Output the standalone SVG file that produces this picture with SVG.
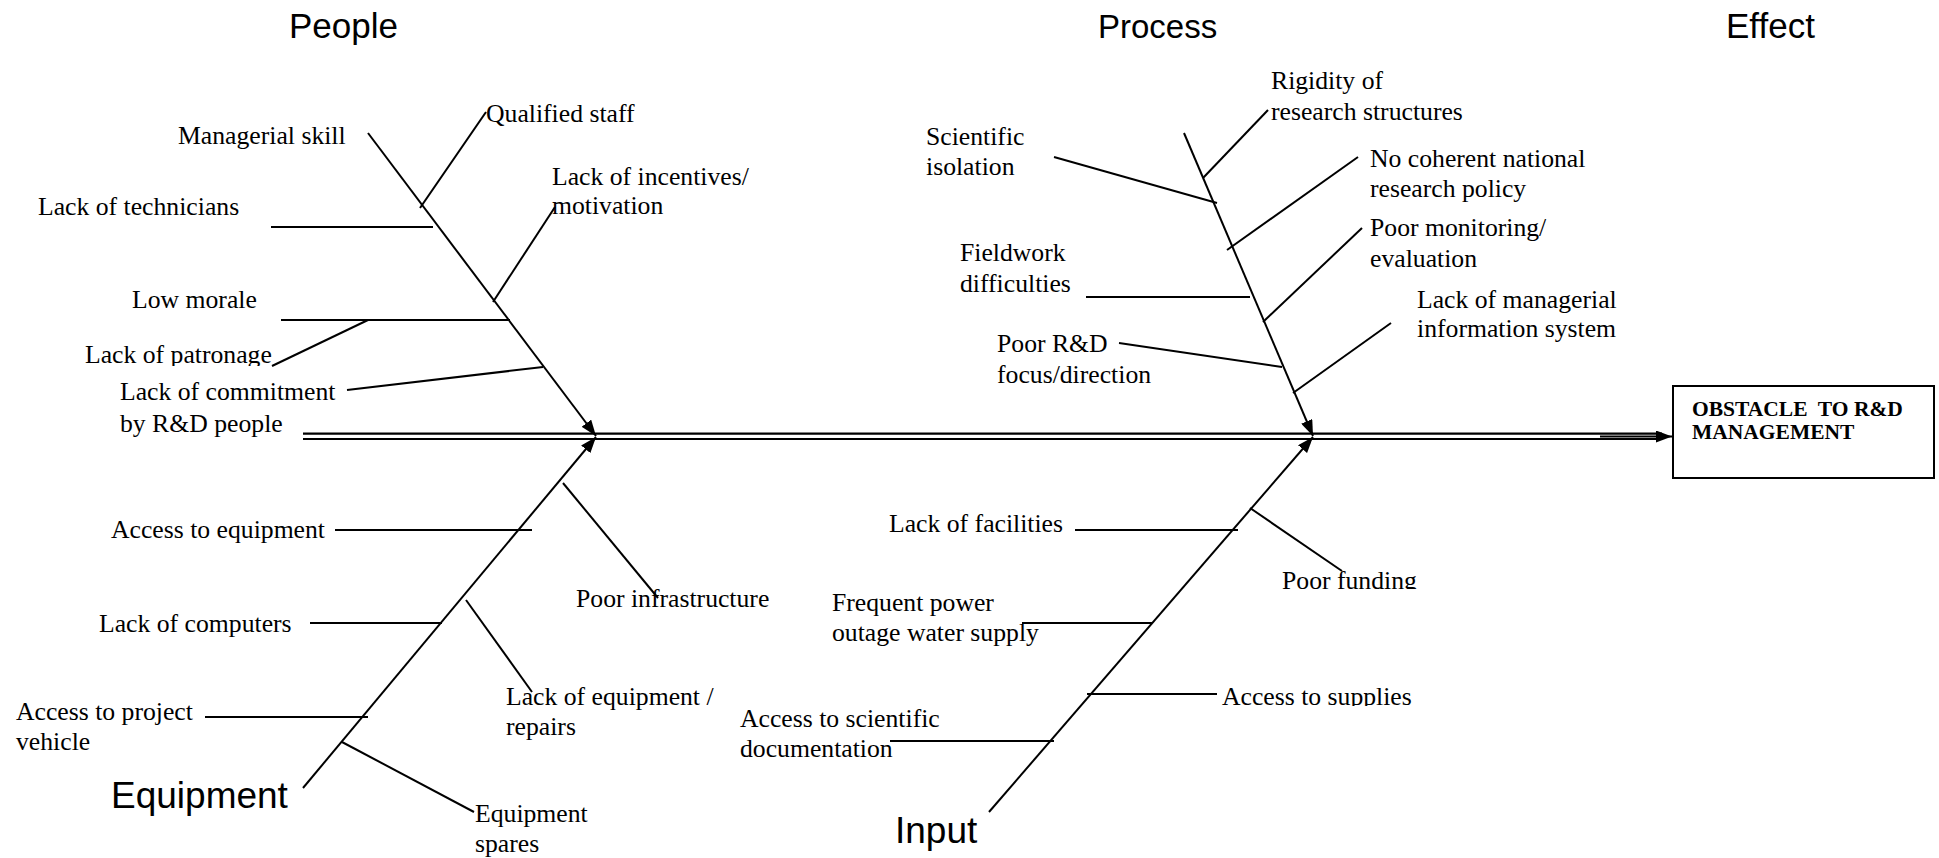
<svg xmlns="http://www.w3.org/2000/svg" width="1939" height="858" viewBox="0 0 1939 858">
<style>
  .lbl { font-family: "Liberation Serif", "Times New Roman", serif; font-size: 25.7px; fill: #000; }
  .hd { font-family: "Liberation Sans", Arial, sans-serif; font-size: 35px; fill: #000; }
  .hd2 { font-family: "Liberation Sans", Arial, sans-serif; font-size: 37px; fill: #000; }
  .ef { font-family: "Liberation Serif", "Times New Roman", serif; font-size: 21.5px; font-weight: bold; fill: #000; white-space: pre; }
  .bone { stroke: #000; stroke-width: 2; fill: none; }
  .br { stroke: #000; stroke-width: 2; fill: none; }
  .sp { stroke: #000; stroke-width: 2.2; fill: none; }
</style>
<defs>
  <marker id="ah" markerUnits="userSpaceOnUse" markerWidth="16" markerHeight="12" refX="16" refY="6" orient="auto">
    <path d="M0,0 L16,6 L0,12 z" fill="#000"/>
  </marker>
  <clipPath id="clipPat"><rect x="0" y="340" width="400" height="26"/></clipPath>
  <clipPath id="clipFund"><rect x="1270" y="560" width="200" height="29"/></clipPath>
  <clipPath id="clipSup"><rect x="1210" y="680" width="250" height="26"/></clipPath>
</defs>
<rect x="0" y="0" width="1939" height="858" fill="#fff"/>

<g id="connectors">
  <!-- spine -->
  <line class="sp" x1="303" y1="433.7" x2="1662" y2="433.7"/>
  <line class="sp" x1="303" y1="439" x2="1662" y2="439"/>
  <line class="sp" x1="1600" y1="436.5" x2="1672" y2="436.5" marker-end="url(#ah)"/>
  <!-- main bones -->
  <line class="bone" x1="368" y1="133" x2="596" y2="436" marker-end="url(#ah)"/>
  <line class="bone" x1="1184" y1="133" x2="1313" y2="436" marker-end="url(#ah)"/>
  <line class="bone" x1="303" y1="788" x2="596" y2="437" marker-end="url(#ah)"/>
  <line class="bone" x1="989" y1="812" x2="1313" y2="437" marker-end="url(#ah)"/>
  <!-- People branches -->
  <line class="br" x1="486" y1="112" x2="420" y2="208"/>
  <line class="br" x1="271" y1="227" x2="433" y2="227"/>
  <line class="br" x1="555" y1="207" x2="493" y2="302"/>
  <line class="br" x1="281" y1="320" x2="510" y2="320"/>
  <line class="br" x1="368" y1="320" x2="272" y2="366"/>
  <line class="br" x1="347" y1="390" x2="543" y2="367"/>
  <!-- Process branches -->
  <line class="br" x1="1268" y1="110" x2="1203" y2="178"/>
  <line class="br" x1="1054" y1="157" x2="1217" y2="203"/>
  <line class="br" x1="1358" y1="157" x2="1227" y2="250"/>
  <line class="br" x1="1086" y1="297" x2="1250" y2="297"/>
  <line class="br" x1="1362" y1="228" x2="1263" y2="322"/>
  <line class="br" x1="1119" y1="343" x2="1282" y2="367"/>
  <line class="br" x1="1391" y1="323" x2="1293" y2="393"/>
  <!-- Equipment branches -->
  <line class="br" x1="563" y1="483" x2="658" y2="598"/>
  <line class="br" x1="335" y1="530" x2="532" y2="530"/>
  <line class="br" x1="310" y1="623" x2="442" y2="623"/>
  <line class="br" x1="466" y1="600" x2="532" y2="692"/>
  <line class="br" x1="205" y1="717" x2="368" y2="717"/>
  <line class="br" x1="342" y1="742" x2="474" y2="812"/>
  <!-- Input branches -->
  <line class="br" x1="1075" y1="530" x2="1238" y2="530"/>
  <line class="br" x1="1250" y1="508" x2="1342" y2="571"/>
  <line class="br" x1="1022" y1="623" x2="1152" y2="623"/>
  <line class="br" x1="1087" y1="694" x2="1217" y2="694"/>
  <line class="br" x1="890" y1="741" x2="1054" y2="741"/>
</g>

<!-- Headings -->
<g id="h-people"><text class="hd" x="289" y="38">People</text></g>
<g id="h-process"><text class="hd" x="1098" y="38" style="font-size:33px">Process</text></g>
<g id="h-effect"><text class="hd" x="1726" y="38">Effect</text></g>
<g id="h-equipment"><text class="hd2" x="111" y="808">Equipment</text></g>
<g id="h-input"><text class="hd2" x="895" y="843">Input</text></g>

<!-- Effect box -->
<g id="effect">
  <rect x="1673" y="386" width="261" height="92" fill="#fff" stroke="#000" stroke-width="2"/>
  <text class="ef" x="1692" y="416" xml:space="preserve">OBSTACLE  TO R&amp;D</text>
  <text class="ef" x="1692" y="439">MANAGEMENT</text>
</g>

<!-- People labels -->
<g id="n-qualified"><text class="lbl" x="486" y="122">Qualified staff</text></g>
<g id="n-managerial"><text class="lbl" x="178" y="144">Managerial skill</text></g>
<g id="n-technicians"><text class="lbl" x="38" y="215">Lack of technicians</text></g>
<g id="n-incentives"><text class="lbl" x="552" y="185">Lack of incentives/</text><text class="lbl" x="552" y="214">motivation</text></g>
<g id="n-morale"><text class="lbl" x="132" y="308">Low morale</text></g>
<g id="n-patronage"><text class="lbl" x="85" y="363" clip-path="url(#clipPat)">Lack of patronage</text></g>
<g id="n-commitment"><text class="lbl" x="120" y="400">Lack of commitment</text><text class="lbl" x="120" y="432">by R&amp;D people</text></g>

<!-- Process labels -->
<g id="n-rigidity"><text class="lbl" x="1271" y="89">Rigidity of</text><text class="lbl" x="1271" y="120">research structures</text></g>
<g id="n-isolation"><text class="lbl" x="926" y="145">Scientific</text><text class="lbl" x="926" y="175">isolation</text></g>
<g id="n-policy"><text class="lbl" x="1370" y="167">No coherent national</text><text class="lbl" x="1370" y="197">research policy</text></g>
<g id="n-monitoring"><text class="lbl" x="1370" y="236">Poor monitoring/</text><text class="lbl" x="1370" y="267">evaluation</text></g>
<g id="n-mis"><text class="lbl" x="1417" y="308">Lack of managerial</text><text class="lbl" x="1417" y="337">information system</text></g>
<g id="n-fieldwork"><text class="lbl" x="960" y="261">Fieldwork</text><text class="lbl" x="960" y="292">difficulties</text></g>
<g id="n-focus"><text class="lbl" x="997" y="352">Poor R&amp;D</text><text class="lbl" x="997" y="383">focus/direction</text></g>

<!-- Equipment labels -->
<g id="n-access-equip"><text class="lbl" x="111" y="538">Access to equipment</text></g>
<g id="n-infrastructure"><text class="lbl" x="576" y="607">Poor infrastructure</text></g>
<g id="n-computers"><text class="lbl" x="99" y="632">Lack of computers</text></g>
<g id="n-repairs"><text class="lbl" x="506" y="705">Lack of equipment /</text><text class="lbl" x="506" y="735">repairs</text></g>
<g id="n-vehicle"><text class="lbl" x="16" y="720">Access to project</text><text class="lbl" x="16" y="750">vehicle</text></g>
<g id="n-spares"><text class="lbl" x="475" y="822">Equipment</text><text class="lbl" x="475" y="852">spares</text></g>

<!-- Input labels -->
<g id="n-facilities"><text class="lbl" x="889" y="532">Lack of facilities</text></g>
<g id="n-funding"><text class="lbl" x="1282" y="589" clip-path="url(#clipFund)">Poor funding</text></g>
<g id="n-power"><text class="lbl" x="832" y="611">Frequent power</text><text class="lbl" x="832" y="641">outage water supply</text></g>
<g id="n-supplies"><text class="lbl" x="1222" y="705" clip-path="url(#clipSup)">Access to supplies</text></g>
<g id="n-docs"><text class="lbl" x="740" y="727">Access to scientific</text><text class="lbl" x="740" y="757">documentation</text></g>
</svg>
